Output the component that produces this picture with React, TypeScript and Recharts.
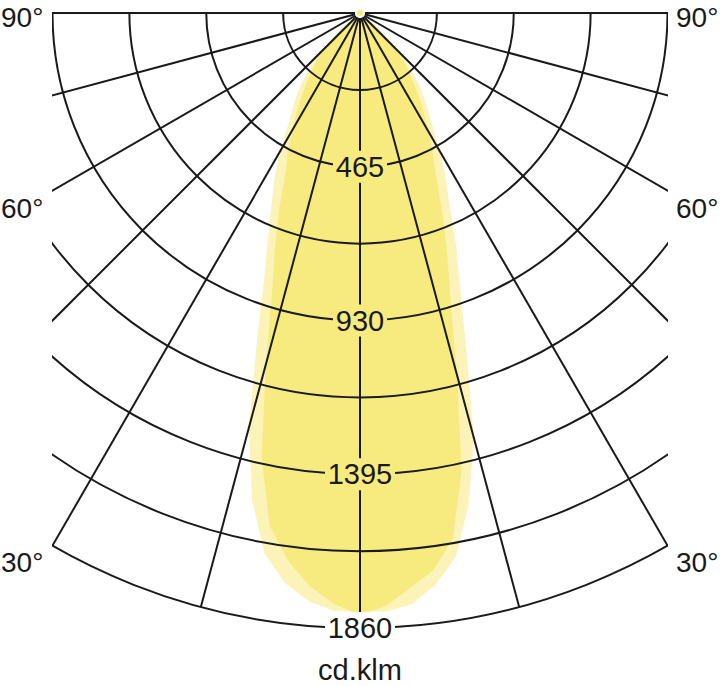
import React from 'react';
import { RadarChart, Radar, PolarGrid, PolarAngleAxis, PolarRadiusAxis } from 'recharts';

// Angle from nadir in degrees (negative = left half, positive = right half)
const angles = [
  -52.5, -50, -47.5, -45, -42.5, -40, -37.5, -35, -32.5, -30, -27.5, -25, -22.5, -20, -17.5, -15, -12.5, -10, -7.5, -5, -2.5,
  0,
  2.5, 5, 7.5, 10, 12.5, 15, 17.5, 20, 22.5, 25, 27.5, 30, 32.5, 35, 37.5, 40, 42.5, 45, 47.5, 50, 52.5,
];

// C0-C180 plane (darker yellow), cd/klm
const c0Values = [
  0, 40, 90, 140, 193, 227, 263, 310, 356, 410, 470, 533, 637, 750, 885, 1100, 1375, 1575, 1670, 1740, 1790,
  1820,
  1795, 1745, 1700, 1615, 1420, 1135, 910, 770, 650, 545, 475, 415, 360, 312, 265, 228, 193, 140, 90, 40, 0,
];

// C90-C270 plane (lighter yellow), cd/klm
const c90Values = [
  0, 60, 115, 170, 225, 273, 315, 357, 408, 483, 558, 631, 723, 845, 1035, 1297, 1509, 1660, 1739, 1785, 1810,
  1810,
  1812, 1795, 1745, 1670, 1520, 1330, 1070, 885, 760, 640, 560, 485, 410, 360, 315, 273, 225, 170, 115, 60, 0,
];

const spokeTicks = [-90, -75, -60, -45, -30, -15, 0, 15, 30, 45, 60, 75, 90];
const ringTicks = [232.5, 465, 697.5, 930, 1162.5, 1395, 1627.5, 1860];
const labelledRings = [465, 930, 1395, 1860];
const sideLabels = ['90°', '60°', '30°'];
const unitLabel = 'cd.klm';

const data = angles.map((a, i) => ({ angle: a, c0: c0Values[i], c90: c90Values[i] }));

const DARK = '#f7eb7f';
const LIGHT = '#fbf3b7';
const INK = '#1a1a1a';
const FONT = '"Liberation Sans", Arial, Helvetica, sans-serif';

const RingLabel = (props: any) => {
  const { x, y, payload } = props;
  const v = payload && payload.value;
  if (!labelledRings.includes(v)) return <g />;
  const txt = String(v);
  const w = txt.length * 16 + 6;
  const bg = v === 1860 ? '#ffffff' : DARK;
  return (
    <g>
      <rect x={x - w / 2} y={y - 16} width={w} height={32} fill={bg} />
      <text
        x={x}
        y={y}
        textAnchor="middle"
        dominantBaseline="central"
        fontFamily={FONT}
        fontSize={29}
        fill={INK}
      >
        {txt}
      </text>
    </g>
  );
};

const sideY = [17, 208, 562];

export default function App() {
  return (
    <div style={{ position: 'absolute', left: 0, top: 0, width: 720, height: 686, background: '#fff' }}>
      <style>{`.recharts-polar-grid{clip-path:url(#fanClip);}`}</style>
      <RadarChart
        width={720}
        height={686}
        data={data}
        cx={360}
        cy={13}
        innerRadius={0}
        outerRadius={615}
        startAngle={-270}
        endAngle={90}
        margin={{ top: 0, right: 0, bottom: 0, left: 0 }}
      >
        <defs>
          <clipPath id="fanClip">
            <rect x={52} y={12} width={616} height={680} />
          </clipPath>
        </defs>
        <Radar dataKey="c90" fill={LIGHT} fillOpacity={1} stroke="none" isAnimationActive={false} dot={false} />
        <Radar dataKey="c0" fill={DARK} fillOpacity={1} stroke="none" isAnimationActive={false} dot={false} />
        <PolarAngleAxis
          dataKey="angle"
          type="number"
          domain={[-180, 180]}
          ticks={spokeTicks}
          tick={false}
          axisLine={false}
          tickLine={false}
        />
        <PolarGrid gridType="circle" stroke={INK} strokeWidth={2} strokeOpacity={1} zIndex={450} />
        <PolarRadiusAxis
          angle={-90}
          domain={[0, 1860]}
          ticks={ringTicks}
          axisLine={false}
          tickLine={false}
          tick={<RingLabel />}
          zIndex={900}
        />
        {sideLabels.map((t, i) => (
          <text key={'l' + t} x={1} y={sideY[i]} dominantBaseline="central" fontFamily={FONT} fontSize={28} fill={INK}>
            {t}
          </text>
        ))}
        {sideLabels.map((t, i) => (
          <text key={'r' + t} x={676} y={sideY[i]} dominantBaseline="central" fontFamily={FONT} fontSize={28} fill={INK}>
            {t}
          </text>
        ))}
        <text x={360} y={680} textAnchor="middle" fontFamily={FONT} fontSize={29} fill={INK}>
          {unitLabel}
        </text>
      </RadarChart>
    </div>
  );
}
